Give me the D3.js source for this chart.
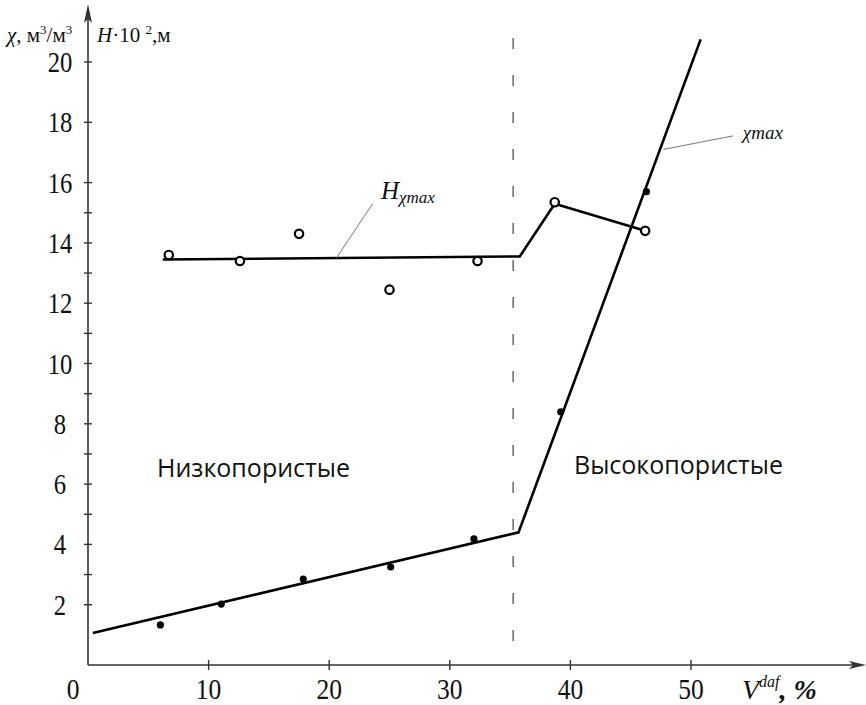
<!DOCTYPE html>
<html>
<head>
<meta charset="utf-8">
<script src="https://cdn.jsdelivr.net/npm/d3@7"></script>
<style>
  body { margin: 0; background: #fff; }
  svg { display: block; }
</style>
</head>
<body>
<script>
// точки H (кружки) и chi (чёрные точки), V^daf в %
let hV = [6.7, 12.6, 17.5, 25.0, 32.3, 38.7, 46.2]
let hY = [13.6, 13.4, 14.3, 12.45, 13.4, 15.35, 14.4]
let chiV = [6.0, 11.05, 17.85, 25.1, 32.0, 39.2, 46.3]
let chiY = [1.33, 2.02, 2.85, 3.25, 4.18, 8.4, 15.7]

// аппроксимирующие ломаные
let hLineV = [6.2, 35.8, 38.7, 46.2]
let hLineY = [13.45, 13.55, 15.3, 14.4]
let chiLineV = [0.4, 35.7, 50.8]
let chiLineY = [1.06, 4.4, 20.75]

let boundaryV = 35.25
let xTicks = [0, 10, 20, 30, 40, 50]
let yTicks = [2, 4, 6, 8, 10, 12, 14, 16, 18, 20]
let yMinor = [3, 5, 7, 9, 11, 13, 15]

let width = 866
let height = 705

let x = d3.scaleLinear().domain([0, 50]).range([88, 691])
let y = d3.scaleLinear().domain([0, 20]).range([665, 62])

let svg = d3.select('body').append('svg').attr('width', width).attr('height', height)

let axisColor = '#333'

// оси со стрелками
svg.append('line')
  .attr('x1', x(0)).attr('y1', y(0)).attr('x2', 860).attr('y2', y(0))
  .attr('stroke', axisColor).attr('stroke-width', 1.6)
svg.append('path')
  .attr('d', `M866,${y(0)} L849,${y(0) - 4} L853,${y(0)} L849,${y(0) + 4} Z`)
  .attr('fill', axisColor)
svg.append('line')
  .attr('x1', x(0)).attr('y1', y(0)).attr('x2', x(0)).attr('y2', 12)
  .attr('stroke', axisColor).attr('stroke-width', 1.6)
svg.append('path')
  .attr('d', `M${x(0)},4 L${x(0) - 4},23 L${x(0)},19 L${x(0) + 4},23 Z`)
  .attr('fill', axisColor)

// засечки
svg.selectAll('.xt')
  .data(xTicks.filter(d => d > 0))
  .enter().append('line')
  .attr('x1', d => x(d)).attr('x2', d => x(d))
  .attr('y1', y(0) - 5).attr('y2', y(0) + 5)
  .attr('stroke', axisColor).attr('stroke-width', 1.4)

svg.selectAll('.yt')
  .data(yTicks.concat(yMinor))
  .enter().append('line')
  .attr('x1', x(0) - 4).attr('x2', x(0) + 4)
  .attr('y1', d => y(d)).attr('y2', d => y(d))
  .attr('stroke', axisColor).attr('stroke-width', 1.4)

let serif = '"Liberation Serif", "Times New Roman", serif'

// подписи засечек (узкий шрифт как на оригинале)
svg.selectAll('.xl')
  .data(xTicks)
  .enter().append('text')
  .attr('transform', d => `translate(${d === 0 ? 73 : x(d)},699) scale(0.85,1)`)
  .attr('text-anchor', 'middle')
  .attr('font-family', serif)
  .attr('font-size', 30)
  .attr('fill', '#111')
  .text(d => d)

svg.selectAll('.yl')
  .data(yTicks)
  .enter().append('text')
  .attr('transform', d => `translate(60,${y(d) + 10}) scale(0.85,1)`)
  .attr('text-anchor', 'middle')
  .attr('font-family', serif)
  .attr('font-size', 29)
  .attr('fill', '#111')
  .text(d => d)

// подписи осей
let yl = svg.append('text')
  .attr('x', 7).attr('y', 42)
  .attr('font-family', serif).attr('font-size', 21).attr('fill', '#111')
yl.append('tspan').attr('font-style', 'italic').text('χ')
yl.append('tspan').text(', м')
yl.append('tspan').attr('font-size', 13).attr('dy', -8).text('3')
yl.append('tspan').attr('dy', 8).text('/м')
yl.append('tspan').attr('font-size', 13).attr('dy', -8).text('3')

let hl = svg.append('text')
  .attr('x', 97).attr('y', 42)
  .attr('font-family', serif).attr('font-size', 21).attr('fill', '#111')
hl.append('tspan').attr('font-style', 'italic').text('H')
hl.append('tspan').text('·10 ')
hl.append('tspan').attr('font-size', 13).attr('dy', -8).text('2')
hl.append('tspan').attr('dy', 8).text(',м')

let xl = svg.append('text')
  .attr('x', 742).attr('y', 699)
  .attr('font-family', serif).attr('font-size', 28).attr('fill', '#111')
xl.append('tspan').attr('font-style', 'italic').text('V')
xl.append('tspan').attr('font-style', 'italic').attr('font-size', 16).attr('dy', -12).text('daf')
xl.append('tspan').attr('font-style', 'italic').attr('font-weight', 'bold').attr('dy', 12).text(', %')

// граница между группами
svg.append('line')
  .attr('x1', x(boundaryV)).attr('x2', x(boundaryV))
  .attr('y1', y(20.8)).attr('y2', y(0.25))
  .attr('stroke', '#444').attr('stroke-width', 1.2)
  .attr('stroke-dasharray', '11,26')

let line = d3.line()
  .x(d => x(d[0]))
  .y(d => y(d[1]))
  .curve(d3.curveLinear)

svg.append('path')
  .attr('fill', 'none').attr('stroke', '#000').attr('stroke-width', 2.6)
  .attr('d', line(chiLineV.map((v, i) => [v, chiLineY[i]])))

svg.append('path')
  .attr('fill', 'none').attr('stroke', '#000').attr('stroke-width', 2.6)
  .attr('d', line(hLineV.map((v, i) => [v, hLineY[i]])))

svg.selectAll('.chi')
  .data(chiV.map((v, i) => [v, chiY[i]]))
  .enter().append('circle')
  .attr('cx', d => x(d[0])).attr('cy', d => y(d[1]))
  .attr('r', 3.6).attr('fill', '#000')

svg.selectAll('.h')
  .data(hV.map((v, i) => [v, hY[i]]))
  .enter().append('circle')
  .attr('cx', d => x(d[0])).attr('cy', d => y(d[1]))
  .attr('r', 4.2).attr('fill', '#fff').attr('stroke', '#000').attr('stroke-width', 2.2)

// выноски
svg.append('line')
  .attr('x1', x(20.6)).attr('y1', y(13.5)).attr('x2', x(23.6)).attr('y2', y(15.3))
  .attr('stroke', '#777').attr('stroke-width', 1)
let hm = svg.append('text')
  .attr('x', x(24.3)).attr('y', y(15.45))
  .attr('font-family', serif).attr('font-style', 'italic').attr('font-size', 25).attr('fill', '#111')
hm.append('tspan').text('H')
hm.append('tspan').attr('font-size', 17).attr('dy', 4).text('χmax')

svg.append('line')
  .attr('x1', x(47.7)).attr('y1', y(17.1)).attr('x2', x(53.5)).attr('y2', y(17.55))
  .attr('stroke', '#777').attr('stroke-width', 1)
svg.append('text')
  .attr('x', x(54.3)).attr('y', y(17.45))
  .attr('font-family', serif).attr('font-style', 'italic').attr('font-size', 19).attr('fill', '#111')
  .text('χmax')

// области
let sans = '"Open Sans", "Noto Sans", sans-serif'
svg.append('text')
  .attr('x', 157).attr('y', 477)
  .attr('font-family', sans).attr('font-size', 25).attr('fill', '#111')
  .text('Низкопористые')
svg.append('text')
  .attr('x', 574).attr('y', 474)
  .attr('font-family', sans).attr('font-size', 25).attr('fill', '#111')
  .text('Высокопористые')
</script>
</body>
</html>
